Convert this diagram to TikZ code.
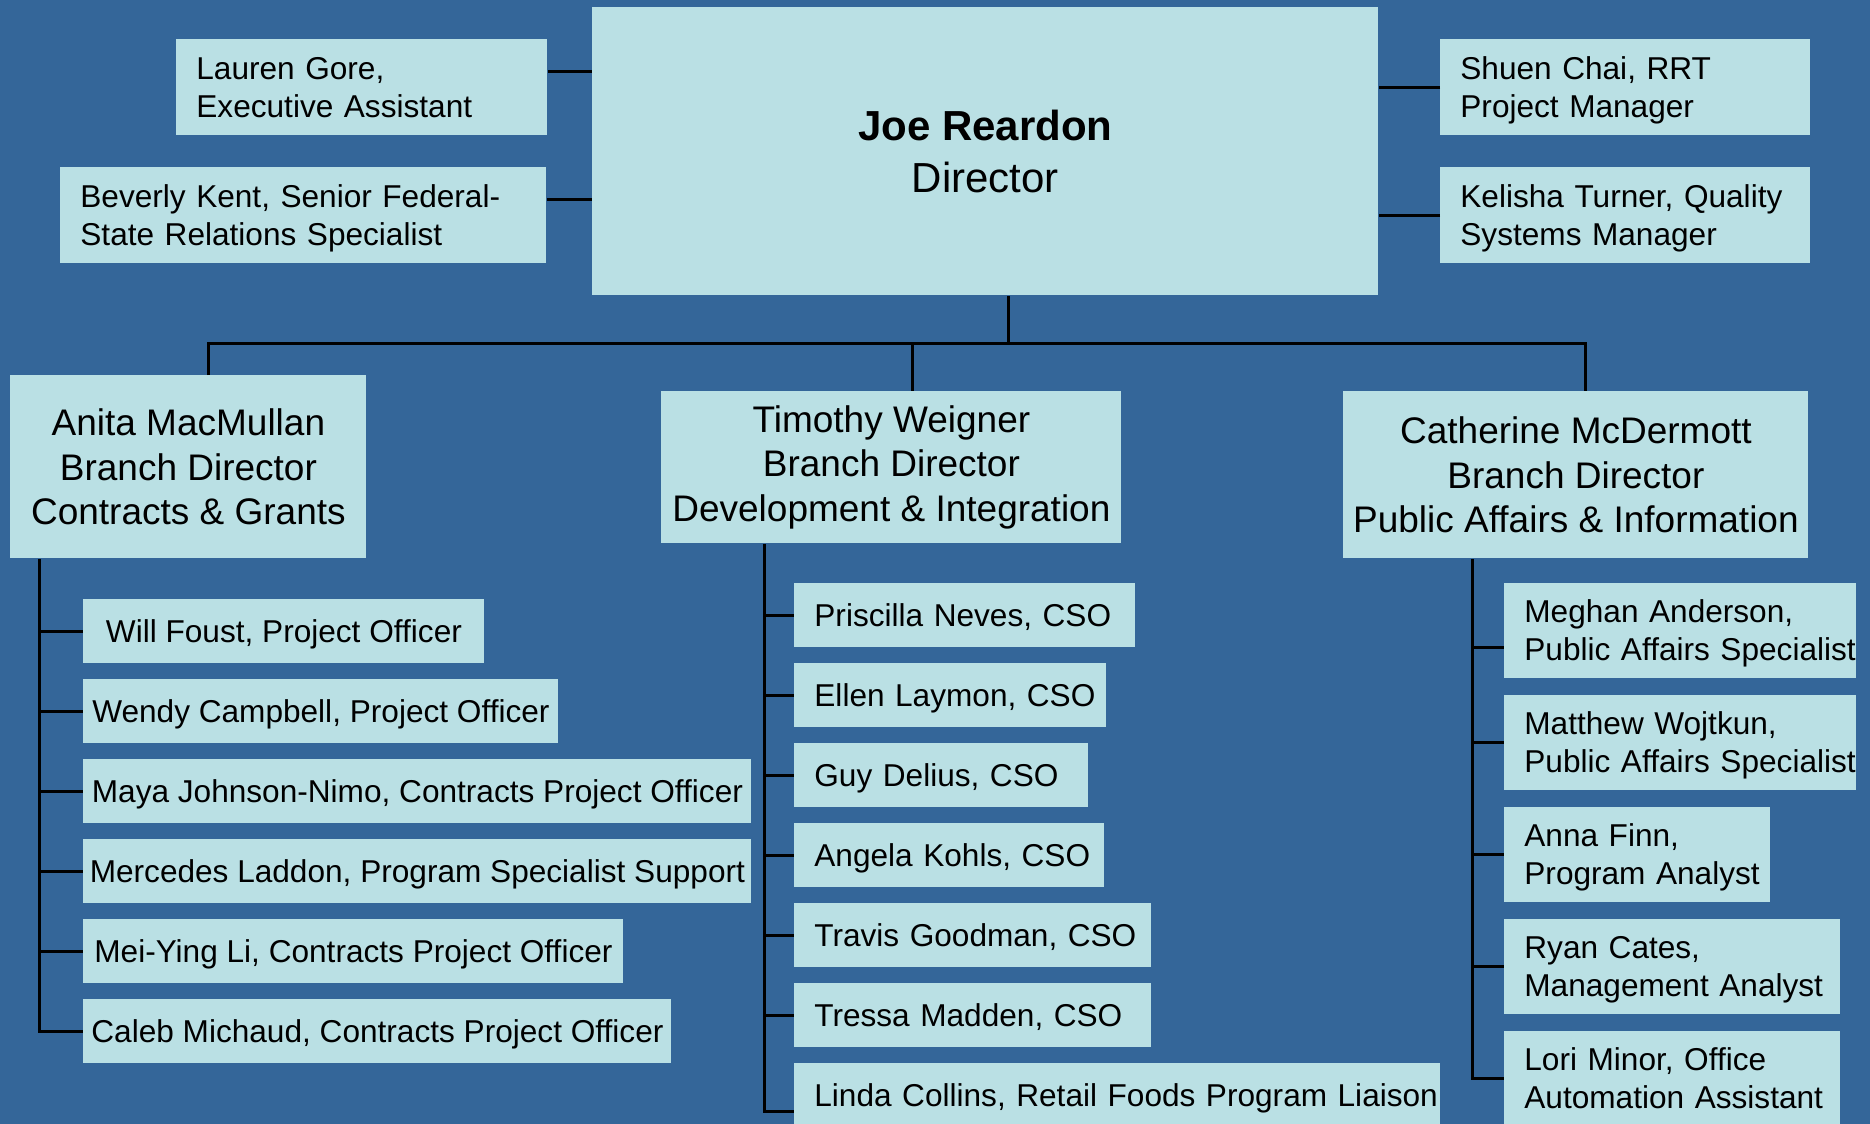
\documentclass[tikz,border=0pt]{standalone}
\usepackage{fontspec}
\setmainfont{Liberation Sans}
\definecolor{chartblue}{RGB}{52,102,153}
\definecolor{cardfill}{RGB}{186,224,228}
\begin{document}
\begin{tikzpicture}[x=0.5pt,y=-0.5pt,
  box/.style={rectangle,fill=cardfill,anchor=north west,inner xsep=0pt,inner ysep=0pt},
  card/.style={box,font=\fontsize{15.8}{19}\selectfont,
    execute at begin node={\rule{0pt}{0.905em}},
    execute at end node={\rule[-0.212em]{0pt}{0pt}}},
  leftcard/.style={card,text width=#1,minimum width=#1,align=left,
    execute at begin node={\leftskip=10pt}},
  branch/.style={box,align=center,font=\fontsize{18.5}{22.4}\selectfont},
  link/.style={line width=1.5pt}]
\fill[chartblue] (0,0) rectangle (1870,1124);
\clip (0,0) rectangle (1870,1124);

% director and staff
\node[box,minimum width=393pt,minimum height=144pt,align=center,
  font=\fontsize{21}{26}\selectfont] (dir) at (592,7) {\textbf{Joe Reardon}\\Director};
\node[leftcard=185.5pt,minimum height=48pt] (lauren) at (176,39) {Lauren Gore,\\Executive Assistant};
\node[leftcard=243pt,minimum height=48pt] (beverly) at (60,167) {Beverly Kent, Senior Federal-\\State Relations Specialist};
\node[leftcard=185pt,minimum height=48pt] (shuen) at (1440,39) {Shuen Chai, RRT\\Project Manager};
\node[leftcard=185pt,minimum height=48pt] (kelisha) at (1440,167) {Kelisha Turner, Quality\\Systems Manager};
\draw[link] ([yshift=8pt]lauren.east) -- ([yshift=8pt]lauren.east -| dir.west);
\draw[link] ([yshift=8pt]beverly.east) -- ([yshift=8pt]beverly.east -| dir.west);
\draw[link] (shuen.west) -- (shuen.west -| dir.east);
\draw[link] (kelisha.west) -- (kelisha.west -| dir.east);

% branches
\node[branch,minimum width=178pt,minimum height=91.5pt] (anita) at (10,375) {Anita MacMullan\\Branch Director\\Contracts \& Grants};
\node[branch,minimum width=230pt,minimum height=76pt] (timothy) at (661,391) {Timothy Weigner\\Branch Director\\Development \& Integration};
\node[branch,minimum width=232.5pt,minimum height=83.5pt] (catherine) at (1343,391) {Catherine McDermott\\Branch Director\\Public Affairs \& Information};
\coordinate (bus) at (1008,343);
\coordinate (ba) at (208,343);
\coordinate (bt) at (912,343);
\coordinate (bc) at (1585,343);
\draw[link] (dir.south -| bus) -- (bus);
\draw[link] (anita.north -| ba) -- (ba) -- (bc) -- (catherine.north -| bc);
\draw[link] (bt) -- (timothy.north -| bt);

% contracts & grants
\node[card,minimum width=200.5pt,minimum height=32pt] (will) at (83,599) {Will Foust, Project Officer};
\node[card,minimum width=237.5pt,minimum height=32pt] (wendy) at (83,679) {Wendy Campbell, Project Officer};
\node[card,minimum width=334pt,minimum height=32pt] (maya) at (83,759) {Maya Johnson-Nimo, Contracts Project Officer};
\node[card,minimum width=334pt,minimum height=32pt] (mercedes) at (83,839) {Mercedes Laddon, Program Specialist Support};
\node[card,minimum width=270pt,minimum height=32pt] (meiying) at (83,919) {Mei-Ying Li, Contracts Project Officer};
\node[card,minimum width=294pt,minimum height=32pt] (caleb) at (83,999) {Caleb Michaud, Contracts Project Officer};
\coordinate (sa) at (39,0);
\draw[link] (anita.south -| sa) |- (caleb.west);
\foreach \n in {will,wendy,maya,mercedes,meiying}
  \draw[link] (sa |- \n.west) -- (\n.west);

% development & integration
\node[leftcard=170.5pt,minimum height=32pt] (priscilla) at (794,583) {Priscilla Neves, CSO};
\node[leftcard=156pt,minimum height=32pt] (ellen) at (794,663) {Ellen Laymon, CSO};
\node[leftcard=147pt,minimum height=32pt] (guy) at (794,743) {Guy Delius, CSO};
\node[leftcard=155pt,minimum height=32pt] (angela) at (794,823) {Angela Kohls, CSO};
\node[leftcard=178.5pt,minimum height=32pt] (travis) at (794,903) {Travis Goodman, CSO};
\node[leftcard=178.5pt,minimum height=32pt] (tressa) at (794,983) {Tressa Madden, CSO};
\node[leftcard=323pt,minimum height=32pt] (linda) at (794,1063) {Linda Collins, Retail Foods Program Liaison};
\coordinate (st) at (764,0);
\draw[link] (timothy.south -| st) |- ([yshift=-8pt]linda.west);
\foreach \n in {priscilla,ellen,guy,angela,travis,tressa}
  \draw[link] (st |- \n.west) -- (\n.west);

% public affairs & information
\node[leftcard=176pt,minimum height=47.5pt] (meghan) at (1504,583) {Meghan Anderson,\\Public Affairs Specialist};
\node[leftcard=176pt,minimum height=47.5pt] (matthew) at (1504,695) {Matthew Wojtkun,\\Public Affairs Specialist};
\node[leftcard=133pt,minimum height=47.5pt] (anna) at (1504,807) {Anna Finn,\\Program Analyst};
\node[leftcard=168pt,minimum height=47.5pt] (ryan) at (1504,919) {Ryan Cates,\\Management Analyst};
\node[leftcard=168pt,minimum height=47.5pt] (lori) at (1504,1031) {Lori Minor, Office\\Automation Assistant};
\coordinate (sc) at (1472,0);
\coordinate (mg) at ([yshift=-8.5pt]meghan.west);
\draw[link] (catherine.south -| sc) |- (lori.west);
\draw[link] (sc |- mg) -- (mg);
\foreach \n in {matthew,anna,ryan}
  \draw[link] (sc |- \n.west) -- (\n.west);
\end{tikzpicture}
\end{document}
